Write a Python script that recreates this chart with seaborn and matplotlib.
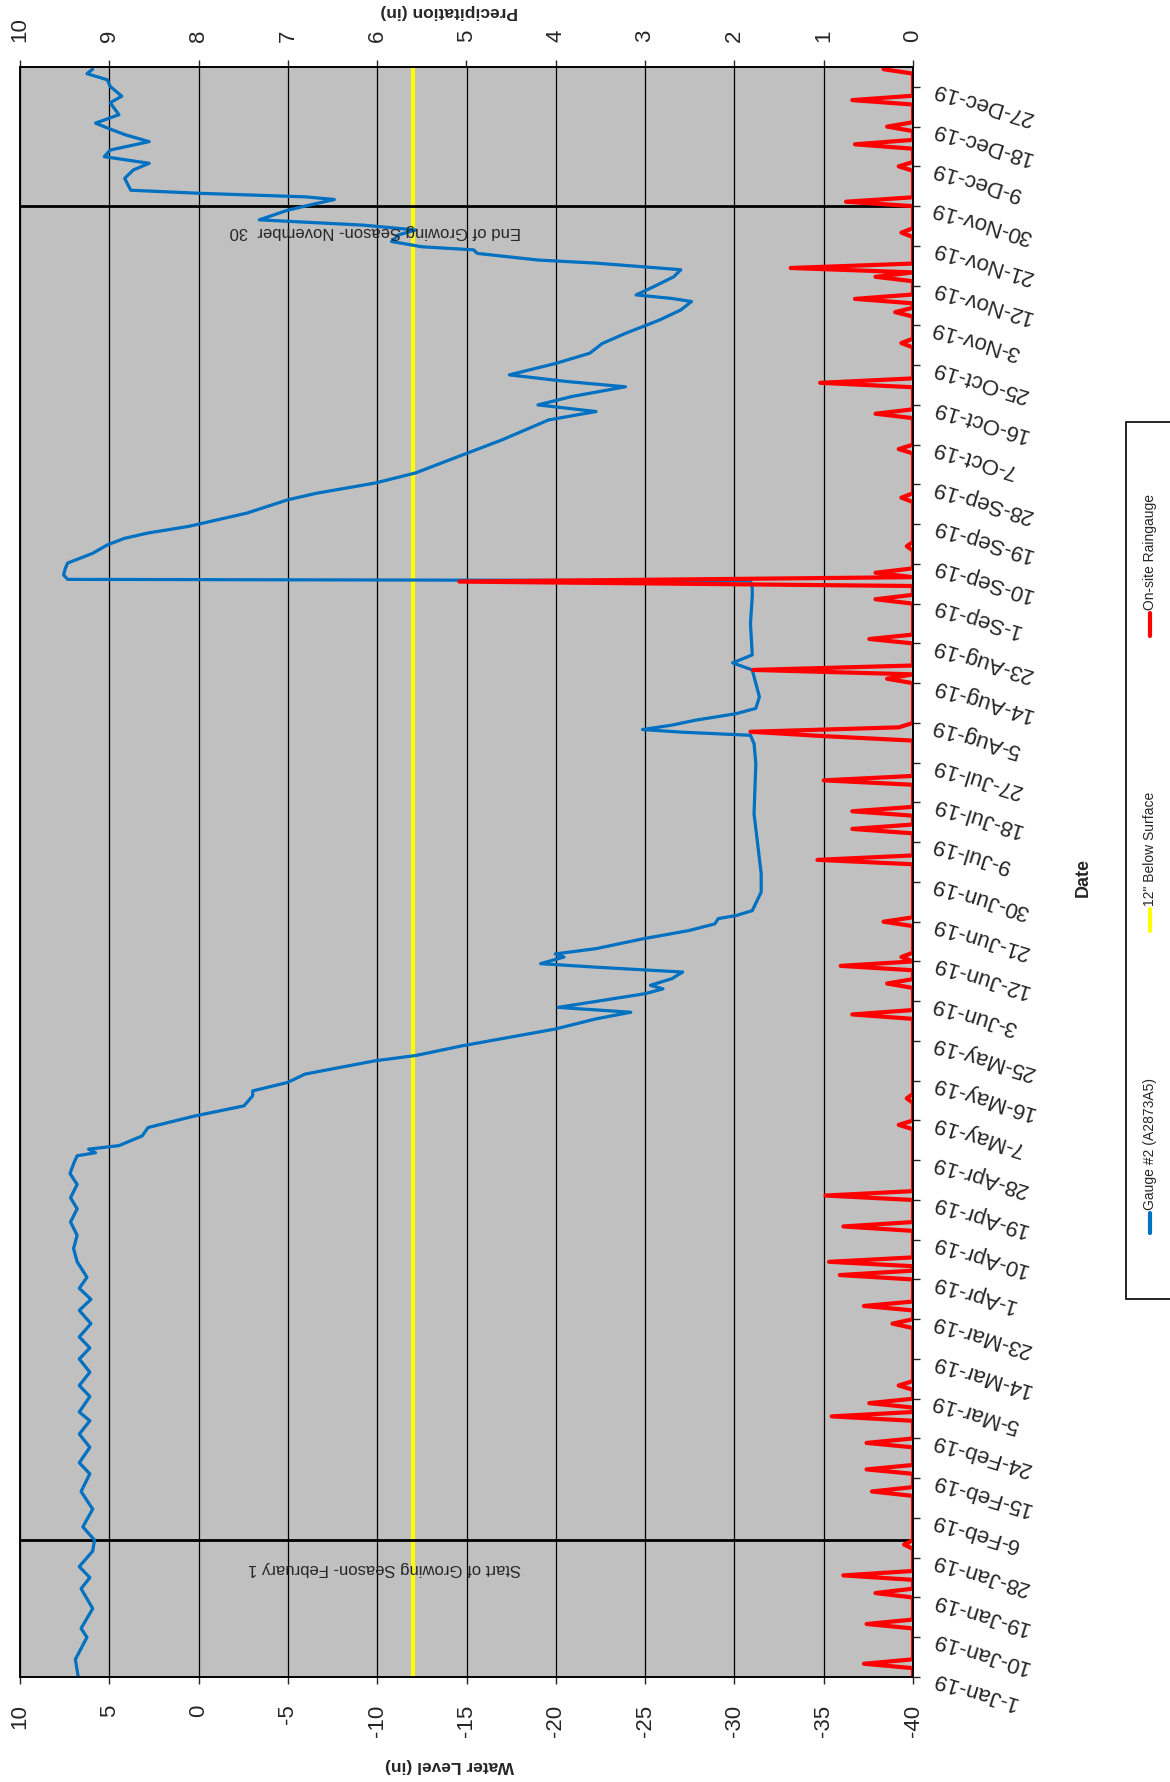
import pandas as pd
import matplotlib.pyplot as plt
import seaborn as sns
from matplotlib.lines import Line2D
from matplotlib.patches import Rectangle

# water level readings (days after 1-Jan-19, inches)
level_day = [0, 4, 9, 11, 15.5, 20, 22.5, 25, 28.5, 31, 34, 38, 42, 46, 48.5, 52, 55, 58, 60,
             63.5, 66, 69, 72, 74.5, 77, 80, 83, 85.5, 88, 90.5, 94, 97, 100, 103, 106, 108.5,
             111.5, 114, 116.5, 118, 118.7, 119.5, 120.3, 122.5, 124.4, 127, 129.3, 131.6,
             132.7, 134.6, 136.5, 139.5, 140.7, 142.9, 146.7, 149, 150.5, 151.6, 154.7, 155.8,
             156.6, 158.1, 159.6, 160.7, 161.5, 163, 163.7, 164.9, 167.1, 169, 170.5, 171.7,
             172.4, 173.5, 177.7, 181.9, 195.4, 206.8, 211.3, 213.2, 213.9, 214.5, 215.5,
             216.6, 218.1, 219.3, 221.9, 228, 229.6, 231.4, 238.5, 244.6, 246.5, 248.2, 248.5,
             249.5, 251, 252.2, 254.4, 256.3, 257.8, 259, 260.5, 263.5, 266.5, 268, 270.3,
             272.6, 274.7, 280.1, 284.6, 286.5, 288, 289.9, 292.1, 293.3, 294.8, 297.4, 299.7,
             301.9, 304.2, 305.7, 307.2, 309.5, 311.4, 312.1, 312.9, 314.8, 317, 318.6, 320.1,
             320.8, 322.3, 323.1, 323.8, 325, 326.5, 327.6, 328.7, 329.9, 332.1, 333.6, 334.5,
             335.1, 335.9, 336.6, 339.3, 341.2, 342.7, 344.2, 345.7, 347.6, 349.2, 350.7,
             351.8, 353.7, 356.4, 357.9, 360.1, 361.6, 363, 364]
level_in = [6.74, 6.9, 6.25, 6.58, 5.93, 6.58, 6.09, 6.68, 5.93, 5.83, 6.48, 5.93, 6.58, 6.09,
            6.68, 6.09, 6.68, 6.09, 6.68, 6.09, 6.68, 6.09, 6.68, 6.09, 6.68, 6.03, 6.68, 6.03,
            6.68, 6.25, 6.8, 7.0, 6.8, 7.17, 6.8, 7.17, 6.8, 7.2, 6.97, 6.8, 5.77, 6.16, 4.46,
            3.16, 2.83, 0.23, -2.54, -3.03, -3.03, -4.98, -5.96, -9.87, -12.15, -14.76, -19.97,
            -22.25, -24.2, -20.13, -25.0, -26.0, -25.3, -26.5, -27.1, -22.25, -19.15, -20.46,
            -19.97, -22.25, -24.85, -27.46, -28.9, -29.1, -30.1, -31.0, -31.5, -31.5, -31.1,
            -31.2, -31.1, -30.9, -27.1, -24.85, -26.5, -27.8, -30.1, -31.2, -31.4, -31.0,
            -29.9, -31.0, -30.9, -31.0, -31.0, -30.9, 7.33, 7.56, 7.46, 7.33, 5.93, 5.11, 4.14,
            2.83, 0.55, -2.7, -4.98, -6.6, -9.87, -12.15, -13.5, -17.0, -19.6, -22.25, -19.0,
            -20.9, -23.9, -20.6, -17.4, -20.0, -21.9, -22.6, -23.9, -24.85, -25.8, -27.0, -27.6,
            -26.5, -24.5, -25.5, -26.6, -27.0, -22.25, -19.0, -15.6, -15.4, -12.5, -10.8, -11.2,
            -12.15, -9.2, -3.4, -5.0, -6.6, -7.6, -6.0, -0.1, 3.8, 4.14, 3.65, 2.77, 5.28, 4.95,
            2.77, 4.14, 5.11, 5.77, 4.46, 4.95, 4.3, 4.95, 5.11, 6.25, 5.93]

# on-site raingauge, days with rain (days after 1-Jan-19, inches)
rain_day = [3, 12, 19, 23, 30, 42, 47, 53, 59, 62, 66, 80, 84, 91, 94, 102, 109, 125, 131,
            150, 157, 161, 163, 171, 185, 192, 196, 203, 213, 214, 215, 226, 228, 235, 244,
            248, 250, 256, 267, 278, 286, 293, 302, 309, 312, 317, 319, 327, 334, 342, 347,
            351, 357, 364]
rain_in = [0.55, 0.52, 0.42, 0.78, 0.10, 0.46, 0.52, 0.52, 0.91, 0.49, 0.16, 0.23, 0.55, 0.82,
           0.94, 0.78, 0.98, 0.16, 0.07, 0.68, 0.29, 0.81, 0.13, 0.33, 1.07, 0.68, 0.68, 1.0,
           0.99, 1.82, 0.16, 0.29, 1.79, 0.49, 0.42, 5.08, 0.42, 0.07, 0.13, 0.16, 0.42, 1.04,
           0.13, 0.2, 0.65, 0.42, 1.37, 0.13, 0.75, 0.16, 0.65, 0.29, 0.68, 0.33]

target_level = -12
season_start = "2019-02-01"
season_end = "2019-11-30"

start = pd.Timestamp("2019-01-01")
level = pd.DataFrame({"date": start + pd.to_timedelta(level_day, unit="D"), "level": level_in})
precip = pd.Series(0.0, index=range(365))
precip[rain_day] = rain_in
rain = pd.DataFrame({"date": start + pd.to_timedelta(precip.index, unit="D"), "rain": precip.values})

sns.set_style("white")
plt.rcParams["font.family"] = ["Liberation Sans", "DejaVu Sans"]
plt.rcParams["axes.unicode_minus"] = False

W, H = 1170, 1783
fig = plt.figure(figsize=(W / 100, H / 100), dpi=100)
ax = fig.add_axes([20 / W, 1 - 1678 / H, 893 / W, 1610 / H])
ax.set_facecolor("#C0C0C0")

ax.axvline(target_level, color="#FFFF00", lw=3, zorder=2)
for d in [season_start, season_end]:
    ax.axhline(pd.Timestamp(d), color="black", lw=2, zorder=3)

sns.lineplot(data=level, x="level", y="date", orient="y", sort=False, estimator=None,
             color="#0070C0", lw=2.3, ax=ax, zorder=4)

ax.set_xlim(10, -40)
ax.set_ylim(start, pd.Timestamp("2019-12-31 12:00"))
ax.set_xticks(range(10, -45, -5))
ax.grid(axis="x", color="black", lw=0.9)
ax.grid(axis="y", visible=False)
ax.set_axisbelow(True)
ax.tick_params(axis="x", bottom=True, length=5, width=1, pad=14, labelsize=16, labelrotation=90)
ax.set_xlabel("")
ax.set_ylabel("")

ticks = pd.date_range("2019-01-01", "2019-12-31", freq="9D")
ax.yaxis.tick_right()
ax.set_yticks(ticks, [f"{t.day}-{t.strftime('%b-%y')}" for t in ticks])
ax.tick_params(axis="y", right=True, length=5, width=1, pad=9, labelsize=16)
for lbl in ax.get_yticklabels():
    lbl.set_rotation(163)
    lbl.set_rotation_mode("anchor")
    lbl.set_ha("right")
    lbl.set_va("center")

ax.text(-9.9, start + pd.Timedelta(days=327.4), "End of Growing Season- November  30",
        rotation=180, ha="center", va="center", fontsize=12, zorder=5)
ax.text(-10.4, start + pd.Timedelta(days=24.7), "Start of Growing Season- February 1",
        rotation=180, ha="center", va="center", fontsize=12, zorder=5)

ax2 = ax.twiny()
sns.lineplot(data=rain, x="rain", y="date", orient="y", sort=False, estimator=None,
             color="#FF0000", lw=3, ax=ax2)
ax2.set_xlim(10, 0)
ax2.set_xticks(range(10, -1, -1))
ax2.tick_params(axis="x", top=True, length=5, width=1, pad=14, labelsize=16, labelrotation=90)
ax2.set_xlabel("")
ax2.set_ylabel("")
ax2.grid(False)
for a in [ax, ax2]:
    for s in a.spines.values():
        s.set_color("black")
        s.set_linewidth(1.2)

fig.text(449 / W, 1 - 1766 / H, "Water Level (in)", rotation=180, ha="center", va="center",
         fontsize=12.5, weight="bold")
fig.text(449 / W, 1 - 12 / H, "Precipitation (in)", rotation=180, ha="center", va="center",
         fontsize=12.5, weight="bold")
fig.text(1083 / W, 1 - 878 / H, "Date", rotation=90, ha="center", va="center",
         fontsize=13, weight="bold")

# legend, drawn turned like the rest of the chart
fig.add_artist(Rectangle((1126 / W, 1 - 1300 / H), 60 / W, 877 / H, transform=fig.transFigure,
                         facecolor="white", edgecolor="black", lw=1.2))
entries = [("Gauge #2 (A2873A5)", "#0070C0", 1214, 1234),
           ('12" Below Surface', "#FFFF00", 910, 932),
           ("On-site Raingauge", "#FF0000", 614, 637)]
for name, col, y0, y1 in entries:
    fig.add_artist(Line2D([1150 / W, 1150 / W], [1 - y0 / H, 1 - y1 / H],
                          transform=fig.transFigure, color=col, lw=3))
    fig.text(1150 / W, 1 - (y0 - 4) / H, name, rotation=90, ha="center", va="bottom",
             fontsize=10, family=["Liberation Sans Narrow", "Liberation Sans", "DejaVu Sans"])

fig.savefig("out.png", dpi=100)
